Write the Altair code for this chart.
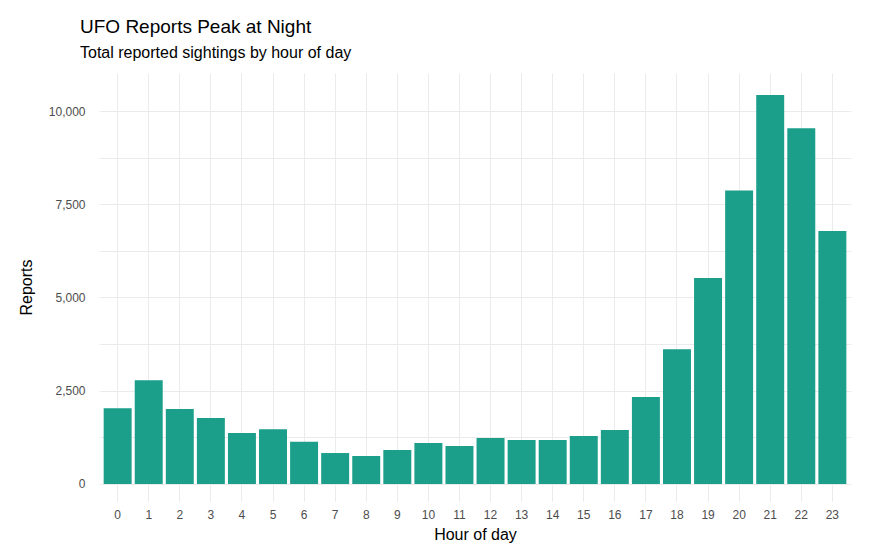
import altair as alt
import pandas as pd

hours = list(range(24))
reports = [2030, 2780, 2010, 1770, 1370, 1470, 1130, 830, 750, 910, 1100, 1020,
           1230, 1180, 1180, 1290, 1450, 2330, 3610, 5520, 7870, 10430, 9540, 6780]

df = pd.DataFrame({"hour": hours, "reports": reports})

chart = (
    alt.Chart(df)
    .mark_bar(color="#1b9e8a")
    .encode(
        x=alt.X("hour:O", title="Hour of day",
                scale=alt.Scale(paddingInner=0.1, paddingOuter=0.15),
                axis=alt.Axis(labelAngle=0, grid=True, labelPadding=8, titlePadding=6)),
        y=alt.Y("reports:Q", title="Reports",
                scale=alt.Scale(domain=[-456, 11019], nice=False, zero=False),
                axis=alt.Axis(values=[0, 1250, 2500, 3750, 5000, 6250, 7500, 8750, 10000],
                              labelExpr="datum.value % 2500 == 0 ? format(datum.value, ',') : ''",
                              labelPadding=14, titlePadding=14)),
        tooltip=["hour", "reports"],
    )
    .properties(
        width=752,
        height=428,
        padding={"left": 10, "top": 10, "right": 5, "bottom": 5},
        title=alt.TitleParams(
            text="UFO Reports Peak at Night",
            subtitle="Total reported sightings by hour of day",
            anchor="start", frame="group", dx=-19,
            fontSize=19, subtitleFontSize=16, fontWeight="normal",
            font="Liberation Sans", subtitleFont="Liberation Sans",
            color="black", subtitleColor="black", offset=12, subtitlePadding=8,
        ),
    )
    .configure_view(stroke=None)
    .configure_axis(
        domain=False, ticks=False, gridColor="#ebebeb",
        labelFont="Liberation Sans", labelFontSize=12, labelColor="#4d4d4d",
        titleFont="Liberation Sans", titleFontSize=16, titleFontWeight="normal",
        titleColor="black",
    )
)

chart.save("out.html", embed_options={"renderer": "svg", "actions": False})
